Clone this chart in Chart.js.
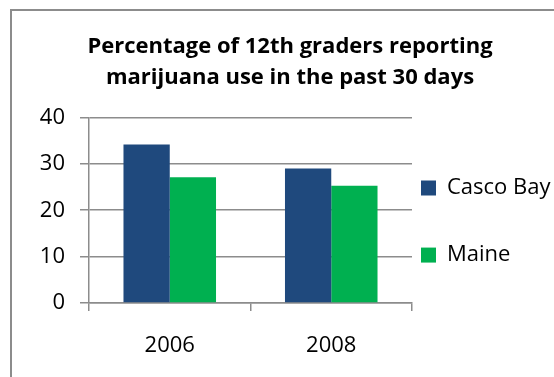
<!DOCTYPE html>
<html>
<head>
<meta charset="utf-8">
<script src="https://cdn.jsdelivr.net/npm/chart.js@4/dist/chart.umd.min.js"></script>
<style>
  html, body { margin: 0; padding: 0; background: #fff; }
  #wrap { width: 554px; height: 377px; }
</style>
</head>
<body>
<div id="wrap"><canvas id="chartDiv"></canvas></div>
<script>
const years = ['2006', '2008']
const cascoBay = [34.2, 29.0]
const maine = [27.1, 25.3]
const yTicks = [0, 10, 20, 30, 40]

const font = '"Open Sans", "Noto Sans", sans-serif'

// outer frame of the chart area, runs off the right and bottom edges
const frame = {
  id: 'frame',
  beforeDraw(chart) {
    const ctx = chart.ctx
    ctx.save()
    ctx.fillStyle = '#fff'
    ctx.fillRect(0, 0, chart.width, chart.height)
    ctx.strokeStyle = '#8c8c8c'
    ctx.lineWidth = 2
    ctx.strokeRect(11, 10, 620, 420)
    ctx.restore()
  }
}

new Chart(document.getElementById('chartDiv'), {
  type: 'bar',
  data: {
    labels: years,
    datasets: [
      { label: 'Casco Bay', data: cascoBay, backgroundColor: '#1f497d' },
      { label: 'Maine', data: maine, backgroundColor: '#00b050' }
    ]
  },
  options: {
    responsive: true,
    maintainAspectRatio: false,
    animation: false,
    layout: { padding: { left: 26, right: 0, top: 0, bottom: 0 } },
    datasets: {
      bar: { categoryPercentage: 0.573, barPercentage: 1 }
    },
    scales: {
      y: {
        min: 0,
        max: 40,
        afterFit(scale) { scale.width = 63 },
        afterBuildTicks(scale) { scale.ticks = yTicks.map(v => ({ value: v })) },
        grid: { color: '#8c8c8c', lineWidth: 1.5, tickLength: 9 },
        border: { color: '#8c8c8c', width: 1.5 },
        ticks: {
          color: '#000',
          padding: 15,
          font: { size: 22, family: font }
        }
      },
      x: {
        afterFit(scale) { scale.height = 74 },
        grid: { drawOnChartArea: false, color: '#8c8c8c', lineWidth: 1.5, tickLength: 8 },
        border: { color: '#8c8c8c', width: 1.5 },
        ticks: {
          color: '#000',
          padding: 22,
          font: { size: 22, family: font }
        }
      }
    },
    plugins: {
      title: {
        display: true,
        text: ['Percentage of 12th graders reporting', 'marijuana use in the past 30 days'],
        color: '#000',
        font: { size: 22, weight: 'bold', family: font, lineHeight: 1.42 },
        padding: { top: 31, bottom: 24 }
      },
      legend: {
        position: 'right',
        align: 'start',
        maxWidth: 142,
        title: { display: true, text: '', font: { size: 10, lineHeight: 1 }, padding: { top: 158, bottom: 0 } },
        labels: {
          boxWidth: 15,
          boxHeight: 15,
          padding: 9,
          color: '#000',
          font: { size: 22, family: font, lineHeight: 2.64 },
          generateLabels(chart) {
            const items = Chart.defaults.plugins.legend.labels.generateLabels(chart)
            items.forEach(it => { it.text = [it.text]; it.lineWidth = 0 })
            return items
          }
        }
      },
      tooltip: { enabled: false }
    }
  },
  plugins: [frame]
});
</script>
</body>
</html>
